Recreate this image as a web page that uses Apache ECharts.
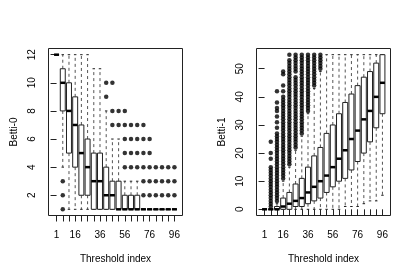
<!DOCTYPE html>
<html><head><meta charset="utf-8">
<script src="https://cdn.jsdelivr.net/npm/echarts@6/dist/echarts.min.js"></script>
<style>html,body{margin:0;padding:0;background:#fff}#c{width:415px;height:278px}</style>
</head><body><div id="c"></div>
<script>
const thresholds = [1,6,11,16,21,26,31,36,41,46,51,56,61,66,71,76,81,86,91,96];
const xLabelIdx = [0,3,7,11,15,19];
const b0TickValues = [2,4,6,8,10,12];
const b1TickValues = [0,10,20,30,40,50];

// [lower whisker, Q1, median, Q3, upper whisker]
const b0Stats = [
  [12,12,12,12,12],[4,8,10,11,12],[1,5,8,10,12],[1,4,7,9,12],[1,2,5,7,12],
  [1,2,4,6,12],[1,1,3,5,11],[1,1,3,5,11],[1,1,2,4,8],[1,1,2,3,6],
  [1,1,1,3,6],[1,1,1,2,3],[1,1,1,2,3],[1,1,1,2,3],[1,1,1,1,1],
  [1,1,1,1,1],[1,1,1,1,1],[1,1,1,1,1],[1,1,1,1,1],[1,1,1,1,1]
];
const b0Outliers = [
  [],[3,2,1],[],[],[],[],[],[],[10,9],[10,8,7],
  [8,7],[8,7,6,5,4],[7,6,5,4],[7,6,5,4],[7,6,5,4,3,2],
  [6,5,4,3,2],[4,3,2],[4,3,2],[4,3,2],[4,3,2]
];
const b1Stats = [
  [0,0,0,0,0],[0,0,0,0,0],[0,0,0,1,2],[0,0,1,4,10],[0,0,2,6,15],
  [0,1,3,9,21],[0,1,4,11,26],[0,2,6,15,34],[0,3,8,19,43],[0,4,10,22,49],
  [0,6,12,27,55],[0,8,15,30,55],[0,10,18,34,55],[1,11,21,38,55],[1,14,25,41,55],
  [1,17,28,44,55],[2,20,32,47,55],[3,24,35,49,55],[3,29,40,52,55],[5,34,45,55,55]
];
const b1Outliers = [
  [],
  [1,2,3,4,5,6,7,8,9,10,11,12,13,14,15,18,20,24],
  [3,4,5,6,7,8,9,10,11,12,13,14,15,16,17,18,19,20,21,22,23,24,25,26,27,29,31,33,35,36,38,42],
  [11,12,13,14,15,16,17,18,19,20,21,22,23,24,25,26,27,28,29,30,31,32,33,34,35,36,37,38,39,40,42,44,48,49],
  [16,17,18,19,20,21,22,23,24,25,26,27,28,29,30,31,32,33,34,35,36,37,38,39,40,41,42,43,44,45,46,47,48,49,50,51,52,53,55],
  [22,23,24,25,26,27,28,29,30,31,32,33,34,35,36,37,38,39,40,41,42,43,44,45,46,47,49,50,51,52,53,54,55],
  [27,28,29,30,31,32,33,34,35,36,37,38,39,40,41,42,43,44,45,46,47,48,49,50,51,52,53,54,55],
  [35,36,37,38,39,40,41,42,43,44,45,46,47,48,49,50,51,52,53,54,55],
  [44,45,46,47,48,49,50,51,52,53,54,55],
  [50,51,52,53,54,55],
  [],[],[],[],[],[],[],[],[],[]
];

const FONT = "'Liberation Sans', Arial, Helvetica, sans-serif";

function renderBox(params, api) {
  const x = api.value(0);
  const lo = api.value(1), q1 = api.value(2), med = api.value(3), q3 = api.value(4), hi = api.value(5);
  const halfW = api.size([0.8, 0])[0] / 2;
  const capW = halfW * 0.5;
  const pLo = api.coord([x, lo]), pQ1 = api.coord([x, q1]), pMed = api.coord([x, med]);
  const pQ3 = api.coord([x, q3]), pHi = api.coord([x, hi]);
  const cx = pMed[0];
  const dash = { stroke: '#555', lineWidth: 1, lineDash: [3, 3] };
  const solid = { stroke: '#222', lineWidth: 1 };
  return {
    type: 'group',
    children: [
      { type: 'line', shape: { x1: cx, y1: pQ3[1], x2: cx, y2: pHi[1] }, style: dash },
      { type: 'line', shape: { x1: cx, y1: pQ1[1], x2: cx, y2: pLo[1] }, style: dash },
      { type: 'line', shape: { x1: cx - capW, y1: pHi[1], x2: cx + capW, y2: pHi[1] }, style: solid },
      { type: 'line', shape: { x1: cx - capW, y1: pLo[1], x2: cx + capW, y2: pLo[1] }, style: solid },
      { type: 'rect', shape: { x: cx - halfW, y: pQ3[1], width: halfW * 2, height: pQ1[1] - pQ3[1] },
        style: { fill: '#fff', stroke: '#222', lineWidth: 1 } },
      { type: 'line', shape: { x1: cx - halfW, y1: pMed[1], x2: cx + halfW, y2: pMed[1] },
        style: { stroke: '#000', lineWidth: 2.5 } }
    ]
  };
}

function boxData(stats) { return stats.map((s, i) => [i].concat(s)); }
function outlierData(out) {
  const d = [];
  out.forEach((vals, i) => vals.forEach(v => d.push([i, v])));
  return d;
}

function xAxisFor(gi) {
  return {
    type: 'value', gridIndex: gi, min: -1.3, max: 20.3,
    name: 'Threshold index', nameLocation: 'middle', nameGap: 39,
    nameTextStyle: { fontFamily: FONT, fontSize: 10, color: '#000' },
    axisLine: { show: false },
    axisTick: { show: true, length: 6, customValues: thresholds.map((t, i) => i), lineStyle: { color: '#222' } },
    axisLabel: { customValues: xLabelIdx, formatter: v => String(thresholds[v]), margin: 15,
      fontFamily: FONT, fontSize: 10, color: '#000' },
    splitLine: { show: false }
  };
}
function yAxisFor(gi, min, max, ticks, name) {
  return {
    type: 'value', gridIndex: gi, min: min, max: max,
    name: name, nameLocation: 'middle', nameGap: 29,
    nameTextStyle: { fontFamily: FONT, fontSize: 10, color: '#000' },
    axisLine: { show: false },
    axisTick: { show: true, length: 6, customValues: ticks, lineStyle: { color: '#222' } },
    axisLabel: { customValues: ticks, rotate: 90, margin: 11, fontFamily: FONT, fontSize: 10, color: '#000' },
    splitLine: { show: false }
  };
}

const chart = echarts.init(document.getElementById('c'), null, { renderer: 'canvas' });
chart.setOption({
  animation: false,
  backgroundColor: '#fff',
  grid: [
    { left: 48.5, top: 48.5, width: 134, height: 167, show: true, borderColor: '#222', borderWidth: 1, backgroundColor: 'transparent' },
    { left: 256.5, top: 48.5, width: 134, height: 167, show: true, borderColor: '#222', borderWidth: 1, backgroundColor: 'transparent' }
  ],
  xAxis: [xAxisFor(0), xAxisFor(1)],
  yAxis: [yAxisFor(0, 0.56, 12.44, b0TickValues, 'Betti-0'), yAxisFor(1, -2.2, 57.2, b1TickValues, 'Betti-1')],
  series: [
    { type: 'custom', xAxisIndex: 0, yAxisIndex: 0, renderItem: renderBox, data: boxData(b0Stats),
      encode: { x: 0, y: [1, 2, 3, 4, 5] } },
    { type: 'scatter', xAxisIndex: 0, yAxisIndex: 0, data: outlierData(b0Outliers), symbolSize: 4.5,
      itemStyle: { color: '#000' } },
    { type: 'custom', xAxisIndex: 1, yAxisIndex: 1, renderItem: renderBox, data: boxData(b1Stats),
      encode: { x: 0, y: [1, 2, 3, 4, 5] } },
    { type: 'scatter', xAxisIndex: 1, yAxisIndex: 1, data: outlierData(b1Outliers), symbolSize: 4.5,
      itemStyle: { color: '#000' } }
  ]
});
</script>
</body></html>
